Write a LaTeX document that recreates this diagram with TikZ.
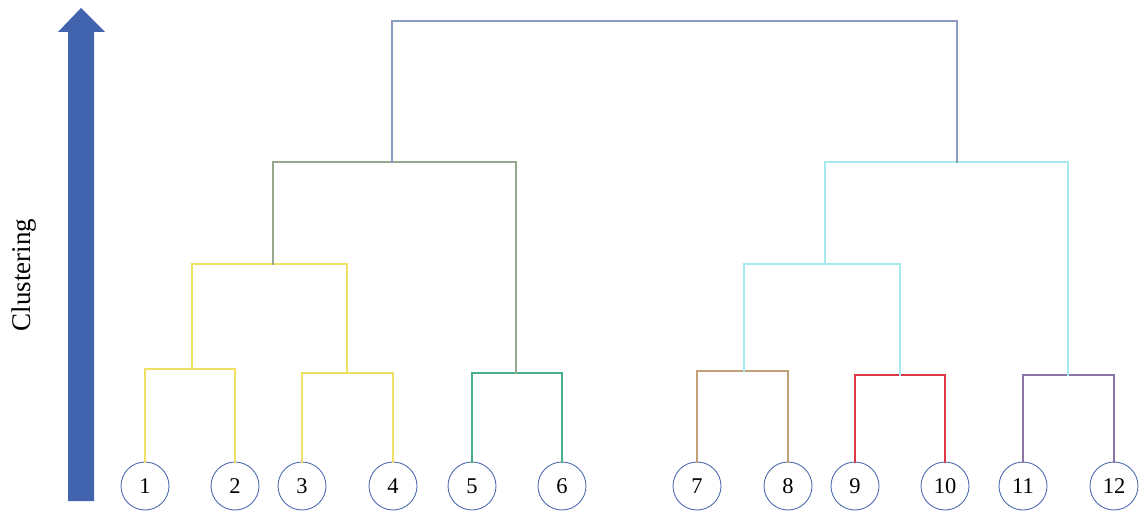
\documentclass[tikz,border=0pt]{standalone}
\usepackage{fontspec}
\setmainfont{Liberation Serif}
\definecolor{cyel}{RGB}{240,224,100}
\definecolor{colive}{RGB}{152,168,142}
\definecolor{ctop}{RGB}{140,156,192}
\definecolor{ccyan}{RGB}{166,234,240}
\definecolor{cgreen}{RGB}{70,176,135}
\definecolor{ctan}{RGB}{196,160,120}
\definecolor{cred}{RGB}{222,56,72}
\definecolor{cpurple}{RGB}{140,116,168}
\definecolor{ccirc}{RGB}{80,108,176}
\definecolor{carrow}{RGB}{66,100,174}
\begin{document}
\begin{tikzpicture}[x=1pt,y=-1pt,
  leaf/.style={circle,draw=ccirc,line width=0.9pt,minimum size=48pt,inner sep=0pt,font=\fontsize{22.5}{22.5}\selectfont},
  link/.style={line width=2pt,line cap=rect}]
\useasboundingbox (0,0) rectangle (1144,513);
% arrow
\fill[carrow] (68,501) -- (68,32) -- (58,32) -- (81,8) -- (105,32) -- (94,32) -- (94,501) -- cycle;
\node[rotate=90,font=\fontsize{27}{27}\selectfont] (lab) at (24,275) {Clustering};
% leaves
\foreach \i/\x in {1/145,2/235,3/302,4/393,5/472,6/562,7/697,8/788,9/855,10/945,11/1023,12/1114}
  \node[leaf] (n\i) at (\x,486) {\i};
% junctions
\coordinate (a12) at (192,369);
\coordinate (a34) at (347,373);
\coordinate (a56) at (516,373);
\coordinate (a78) at (744,371);
\coordinate (a910) at (900,375);
\coordinate (a1112) at (1068,375);
\coordinate (b14) at (273,264);
\coordinate (b710) at (825,264);
\coordinate (c16) at (392,162);
\coordinate (c712) at (957,162);
\coordinate (top) at (675,21);
% leaf brackets
\draw[link,cyel] (n1.north) |- (a12) -| (n2.north);
\draw[link,cyel] (n3.north) |- (a34) -| (n4.north);
\draw[link,cgreen] (n5.north) |- (a56) -| (n6.north);
\draw[link,ctan] (n7.north) |- (a78) -| (n8.north);
\draw[link,cred] (n9.north) |- (a910) -| (n10.north);
\draw[link,cpurple] (n11.north) |- (a1112) -| (n12.north);
% upper brackets
\draw[link,cyel] (a12) |- (b14) -| (a34);
\draw[link,colive] (b14) |- (c16) -| (a56);
\draw[link,ccyan] (a78) |- (b710) -| (a910);
\draw[link,ccyan] (b710) |- (c712) -| (a1112);
\draw[link,ctop] (c16) |- (top) -| (c712);
\end{tikzpicture}
\end{document}
